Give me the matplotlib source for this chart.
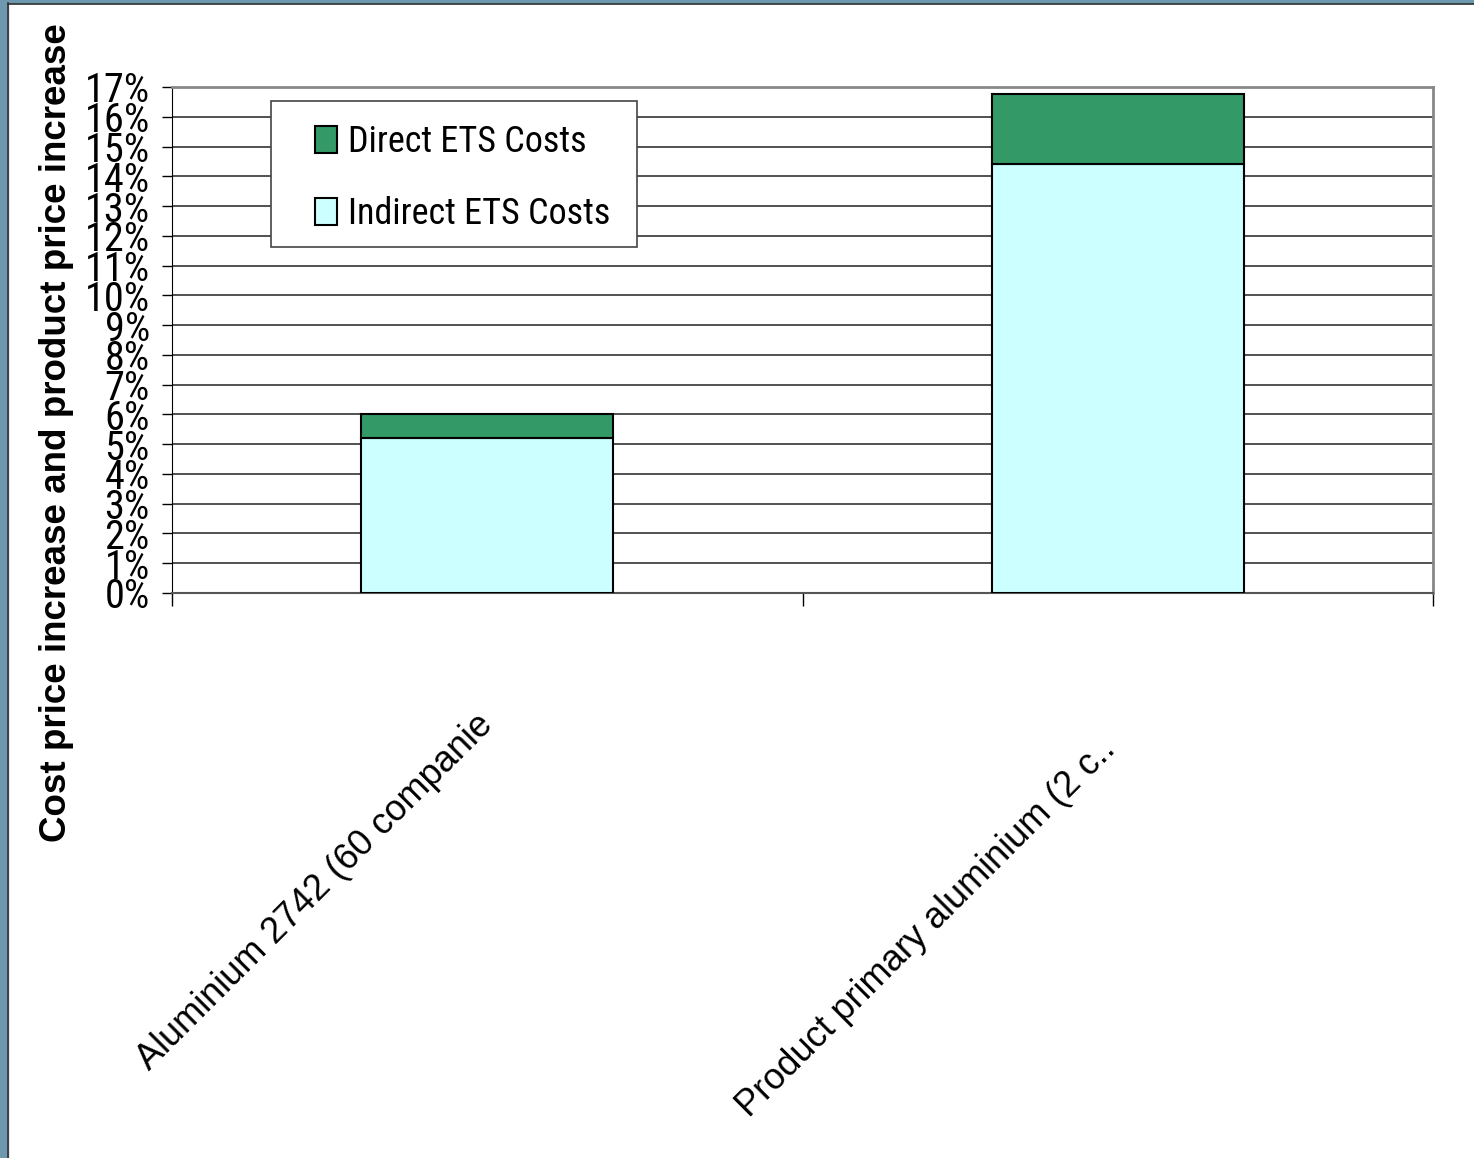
import numpy as np
import matplotlib
matplotlib.use('Agg')
import matplotlib.pyplot as plt
from matplotlib.patches import Rectangle
from matplotlib.transforms import ScaledTranslation
from matplotlib import font_manager

# ── DATA ──────────────────────────────────────────────────────────────────────
categories = ["Aluminium 2742 (60 companie", "Product primary aluminium (2 c.."]
indirect = [5.2, 14.4]      # % indirect ETS costs
direct = [0.8, 2.35]        # % direct ETS costs (stacked on top)
y_ticks = list(range(0, 18))
y_labels = [f"{v}%" for v in y_ticks]

GREEN = "#339966"
CYAN = "#CCFFFF"

# pick a condensed face if one exists, otherwise plain Liberation Sans
names = {f.name for f in font_manager.fontManager.ttflist}
NARROW = "Liberation Sans"
for cand in ["Liberation Sans Narrow", "Roboto Condensed", "Open Sans Condensed",
             "DejaVu Sans Condensed", "Noto Sans Condensed"]:
    if cand in names:
        NARROW = cand
        break
is_narrow = NARROW != "Liberation Sans"

# ── PLOT ──────────────────────────────────────────────────────────────────────
fig = plt.figure(figsize=(14.74, 11.58), dpi=100)
W, H = 1474, 1158

# slide-style border (left and top)
fig.patches.append(Rectangle((0, 0), 8 / W, 1, transform=fig.transFigure,
                             color="#6E98AD", zorder=0))
fig.patches.append(Rectangle((0, 1 - 3 / H), 1, 3 / H, transform=fig.transFigure,
                             color="#6E98AD", zorder=0))
fig.lines.append(plt.Line2D([8 / W, 8 / W], [0, 1 - 3 / H], transform=fig.transFigure,
                            color="#333333", lw=1.2))
fig.lines.append(plt.Line2D([8 / W, 1], [1 - 3.5 / H, 1 - 3.5 / H], transform=fig.transFigure,
                            color="#333333", lw=1.2))

ax = fig.add_axes([172 / W, 1 - 593 / H, (1433 - 172) / W, (593 - 87) / H])

x = np.arange(len(categories))
ax.bar(x, indirect, width=0.4, color=CYAN, edgecolor="black", lw=1.5,
       label="Indirect ETS Costs", zorder=3)
ax.bar(x, direct, width=0.4, bottom=indirect, color=GREEN, edgecolor="black", lw=1.5,
       label="Direct ETS Costs", zorder=3)

ax.set_xlim(-0.5, 1.5)
ax.set_ylim(0, 17)
ax.set_yticks(y_ticks)
ax.set_yticklabels(y_labels, fontsize=29 if is_narrow else 25, family=NARROW)
ax.yaxis.grid(True, color="#333333", lw=1.2, zorder=0)
ax.tick_params(axis="y", length=7, width=1, pad=9)

ax.set_xticks(x)
ax.set_xticklabels(categories, rotation=45, ha="right", rotation_mode="anchor",
                   fontsize=26, family="Liberation Sans")
ax.set_xticks([-0.5, 0.5, 1.5], minor=True)
ax.tick_params(axis="x", which="major", length=0, pad=82)
ax.tick_params(axis="x", which="minor", length=9, width=1)
# nudge the rotated labels (pixels: right, up)
for lbl, (dx, dy) in zip(ax.get_xticklabels(), [(-12, 0), (-20, -25)]):
    lbl.set_transform(lbl.get_transform() +
                      ScaledTranslation(dx / 100, dy / 100, fig.dpi_scale_trans))

for s in ["top", "right"]:
    ax.spines[s].set_color("#888888")
    ax.spines[s].set_linewidth(2)
ax.spines["left"].set_color("black")
ax.spines["bottom"].set_color("#555555")
ax.spines["bottom"].set_linewidth(1.5)

fig.text(57 / W, 1 - 433 / H, "Cost price increase and product price increase",
         rotation=90, ha="center", va="center", fontsize=26.5, fontweight="bold",
         family="Liberation Sans")

# legend: frame drawn separately so the entries can sit inset like the original
frame = Rectangle((271 / W, 1 - 247 / H), 366 / W, 146 / H, transform=fig.transFigure,
                  facecolor="white", edgecolor="#444444", lw=1.2, zorder=4, clip_on=False)
ax.add_patch(frame)
handles, labels = ax.get_legend_handles_labels()
leg = ax.legend(handles[::-1], labels[::-1], loc="upper left",
                bbox_to_anchor=(315 / W, 1 - 124 / H), bbox_transform=fig.transFigure,
                prop={"family": NARROW, "size": 26 if is_narrow else 23},
                frameon=False, handlelength=0.6, handleheight=0.75,
                handletextpad=0.3, labelspacing=1.0, borderpad=0, borderaxespad=0)
leg.set_zorder(5)

plt.savefig("out.png", dpi=100)
plt.close()
